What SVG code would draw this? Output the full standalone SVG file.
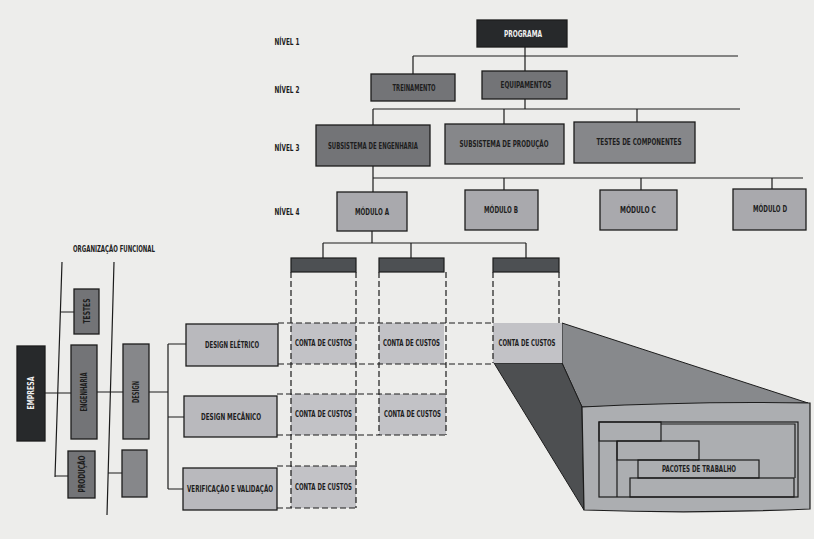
<svg xmlns="http://www.w3.org/2000/svg" width="814" height="539" viewBox="0 0 814 539">
<defs>
<style>
.t{font-family:"Liberation Sans Narrow","DejaVu Sans Condensed","Liberation Sans",sans-serif;font-size:8.5px;font-weight:bold;fill:#1e1e1e;text-anchor:middle;dominant-baseline:central}
.w{fill:#f0f0f0}
.bx{stroke:#1c1c1c;stroke-width:1.3}
.dark{fill:#27292b}
.mid{fill:#737477}
.mid2{fill:#86878a}
.lt{fill:#a9a9ad}
.lt2{fill:#b9b9bd}
.cell{fill:#c2c2c6}
.hdr{fill:#4d5053;stroke:#1c1c1c;stroke-width:1.2}
.ln{stroke:#1c1c1c;stroke-width:1.2;fill:none}
.ds{stroke:#1c1c1c;stroke-width:1.2;fill:none;stroke-dasharray:6 3}
</style>
</defs>
<rect width="814" height="539" fill="#ededeb"/>

<g id="labels">
<text class="t" x="287" y="42" textLength="25" lengthAdjust="spacingAndGlyphs">NÍVEL 1</text>
<text class="t" x="287" y="90" textLength="25" lengthAdjust="spacingAndGlyphs">NÍVEL 2</text>
<text class="t" x="287" y="148" textLength="25" lengthAdjust="spacingAndGlyphs">NÍVEL 3</text>
<text class="t" x="287" y="212" textLength="25" lengthAdjust="spacingAndGlyphs">NÍVEL 4</text>
<text class="t" x="114" y="249" textLength="82" lengthAdjust="spacingAndGlyphs">ORGANIZAÇÃO FUNCIONAL</text>
</g>

<g id="connectors">
<path class="ln" d="M525 47V71 M413 56H738 M413 56V74"/>
<path class="ln" d="M525 99V109 M373 109H740 M373 109V125 M504 109V124 M637 109V122"/>
<path class="ln" d="M373 166V192 M373 178H803 M504 178V190 M641 178V190 M772 178V189"/>
<path class="ln" d="M372 231V243 M323 243H526 M323 243V258 M411 243V258 M526 243V258"/>
<path class="ln" d="M62 262L55 477 M61 312H74 M55 476H68 M45 393H71"/>
<path class="ln" d="M114 262L107 515 M108 473H122 M97 392H123"/>
<path class="ln" d="M149 392H168 M168 344V489 M168 344H186 M168 417H184 M168 489H183"/>
</g>

<g id="n-programa"><rect class="bx dark" x="477" y="20" width="90" height="27"/><text class="t w" x="523" y="34" textLength="38" lengthAdjust="spacingAndGlyphs">PROGRAMA</text></g>
<g id="n-treinamento"><rect class="bx mid" x="371" y="74" width="84" height="27"/><text class="t" x="414" y="88" textLength="43" lengthAdjust="spacingAndGlyphs">TREINAMENTO</text></g>
<g id="n-equipamentos"><rect class="bx mid" x="482" y="71" width="85" height="28"/><text class="t" x="526" y="85" textLength="51" lengthAdjust="spacingAndGlyphs">EQUIPAMENTOS</text></g>

<g id="n-sub-eng"><rect class="bx mid" x="316" y="125" width="114" height="41"/><text class="t" x="373" y="146" textLength="90" lengthAdjust="spacingAndGlyphs">SUBSISTEMA DE ENGENHARIA</text></g>
<g id="n-sub-prod"><rect class="bx mid2" x="445" y="124" width="119" height="40"/><text class="t" x="504" y="144" textLength="89" lengthAdjust="spacingAndGlyphs">SUBSISTEMA DE PRODUÇÃO</text></g>
<g id="n-testes-comp"><rect class="bx mid2" x="574" y="122" width="121" height="41"/><text class="t" x="639" y="142" textLength="85" lengthAdjust="spacingAndGlyphs">TESTES DE COMPONENTES</text></g>

<g id="n-mod-a"><rect class="bx lt" x="337" y="192" width="70" height="39"/><text class="t" x="372" y="212" textLength="34" lengthAdjust="spacingAndGlyphs">MÓDULO A</text></g>
<g id="n-mod-b"><rect class="bx lt" x="465" y="190" width="73" height="40"/><text class="t" x="501" y="210" textLength="34" lengthAdjust="spacingAndGlyphs">MÓDULO B</text></g>
<g id="n-mod-c"><rect class="bx lt" x="600" y="190" width="77" height="40"/><text class="t" x="638" y="210" textLength="36" lengthAdjust="spacingAndGlyphs">MÓDULO C</text></g>
<g id="n-mod-d"><rect class="bx lt" x="733" y="189" width="73" height="41"/><text class="t" x="770" y="209" textLength="34" lengthAdjust="spacingAndGlyphs">MÓDULO D</text></g>

<g id="n-empresa"><rect class="bx dark" x="17" y="346" width="28" height="95"/><text class="t w" transform="translate(31 393) rotate(-90)" textLength="33" lengthAdjust="spacingAndGlyphs">EMPRESA</text></g>
<g id="n-testes"><rect class="bx mid" x="74" y="289" width="25" height="45"/><text class="t" transform="translate(86.5 311) rotate(-90)" textLength="25" lengthAdjust="spacingAndGlyphs">TESTES</text></g>
<g id="n-engenharia"><rect class="bx mid" x="71" y="345" width="26" height="94"/><text class="t" transform="translate(84 392) rotate(-90)" textLength="39" lengthAdjust="spacingAndGlyphs">ENGENHARIA</text></g>
<g id="n-producao"><rect class="bx mid" x="68" y="451" width="27" height="47"/><text class="t" transform="translate(81.5 474) rotate(-90)" textLength="37" lengthAdjust="spacingAndGlyphs">PRODUÇÃO</text></g>
<g id="n-design"><rect class="bx mid2" x="123" y="344" width="26" height="95"/><text class="t" transform="translate(136 392) rotate(-90)" textLength="22" lengthAdjust="spacingAndGlyphs">DESIGN</text></g>
<g id="n-blank"><rect class="bx mid2" x="122" y="450" width="25" height="47"/></g>

<g id="n-design-eletrico"><rect class="bx lt2" x="186" y="324" width="92" height="42"/><text class="t" x="232" y="345" textLength="54" lengthAdjust="spacingAndGlyphs">DESIGN ELÉTRICO</text></g>
<g id="n-design-mecanico"><rect class="bx lt2" x="184" y="396" width="93" height="41"/><text class="t" x="231" y="417" textLength="60" lengthAdjust="spacingAndGlyphs">DESIGN MECÂNICO</text></g>
<g id="n-verificacao"><rect class="bx lt2" x="183" y="468" width="94" height="42"/><text class="t" x="230" y="489" textLength="86" lengthAdjust="spacingAndGlyphs">VERIFICAÇÃO E VALIDAÇÃO</text></g>

<g id="n-headers">
<rect class="hdr" x="291" y="258" width="65" height="14"/>
<rect class="hdr" x="379" y="258" width="65" height="14"/>
<rect class="hdr" x="493" y="258" width="66" height="14"/>
</g>

<g id="n-pacotes">
<polygon points="562,323 808,403 582,407 562,363" fill="#87898c" stroke="#1c1c1c" stroke-width="1"/>
<polygon points="494,363 562,363 582,407 584,510" fill="#4d4f51" stroke="#1c1c1c" stroke-width="1"/>
<path d="M582 407Q695 401 810 403V509Q695 514 584 510Z" fill="#acaeb1" stroke="#1c1c1c" stroke-width="1.2"/>
<rect class="ln" x="599" y="422" width="199" height="75"/>
<rect class="ln" x="599" y="422" width="62" height="19"/>
<rect class="ln" x="617" y="441" width="82" height="19"/>
<rect class="ln" x="638" y="460" width="121" height="18"/>
<rect class="ln" x="630" y="478" width="164" height="19"/>
<path class="ln" d="M617 441V497 M661 424H795V478"/>
<text class="t" x="699" y="469" textLength="74" lengthAdjust="spacingAndGlyphs">PACOTES DE TRABALHO</text>
</g>

<g id="n-contas">
<rect class="cell" x="291" y="323" width="65" height="41"/>
<rect class="cell" x="379" y="323" width="65" height="41"/>
<rect class="cell" x="493" y="323" width="69" height="40"/>
<rect class="cell" x="291" y="394" width="65" height="41"/>
<rect class="cell" x="379" y="394" width="67" height="41"/>
<rect class="cell" x="291" y="466" width="65" height="42"/>
<text class="t" x="323.5" y="343" textLength="57" lengthAdjust="spacingAndGlyphs">CONTA DE CUSTOS</text>
<text class="t" x="411.5" y="343" textLength="57" lengthAdjust="spacingAndGlyphs">CONTA DE CUSTOS</text>
<text class="t" x="527" y="343" textLength="57" lengthAdjust="spacingAndGlyphs">CONTA DE CUSTOS</text>
<text class="t" x="323.5" y="414" textLength="57" lengthAdjust="spacingAndGlyphs">CONTA DE CUSTOS</text>
<text class="t" x="412.5" y="414" textLength="57" lengthAdjust="spacingAndGlyphs">CONTA DE CUSTOS</text>
<text class="t" x="323.5" y="487" textLength="57" lengthAdjust="spacingAndGlyphs">CONTA DE CUSTOS</text>
<path class="ds" d="M278 323H493 M278 364H494 M277 394H446 M277 435H446 M277 466H356 M277 508H356"/>
<path class="ds" d="M291 272V508 M356 272V508 M379 272V435 M446 272V435 M493 272V363 M559 272V323"/>
</g>
</svg>
